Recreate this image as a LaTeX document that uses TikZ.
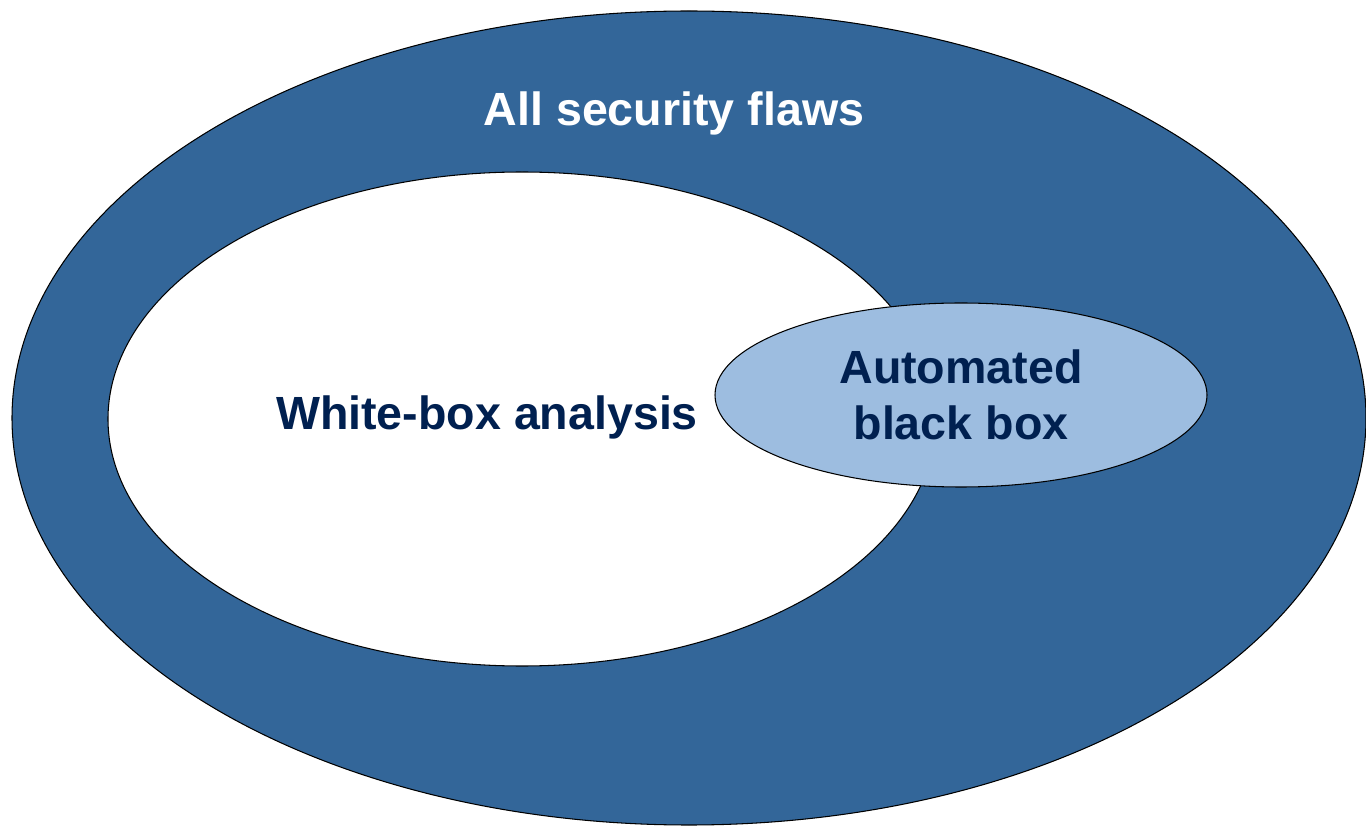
\documentclass[tikz,border=0pt]{standalone}
\usepackage{fontspec}
\setmainfont{Liberation Sans}
\usetikzlibrary{shapes.geometric}

\definecolor{flawblue}{RGB}{51,102,153}
\definecolor{blackboxblue}{RGB}{157,189,224}
\definecolor{labelnavy}{RGB}{0,32,80}

\tikzset{
	flawset/.style={shape=ellipse,draw=black,line width=0.6pt,inner sep=0pt},
	setlabel/.style={font=\fontsize{26.5}{32}\selectfont\bfseries,align=center}
}

\begin{document}
\begin{tikzpicture}

	\useasboundingbox (0, 0) rectangle (27.32, 16.5);
	\clip (0, 0) rectangle (27.32, 16.5);

	\node[flawset,fill=flawblue,minimum width=27.08cm,minimum height=16.28cm]    (all)      at (13.78, 8.14) {};
	\node[flawset,fill=white,minimum width=16.56cm,minimum height=9.88cm]        (whitebox) at (10.44, 8.12) {};
	\node[flawset,fill=blackboxblue,minimum width=9.84cm,minimum height=3.68cm]  (blackbox) at (19.22, 8.60) {};

	\node[setlabel,text=white]      (alltext)      at (13.48, 14.24) {All security flaws};
	\node[setlabel,text=labelnavy]  (whiteboxtext) at (9.74, 8.16)   {White-box analysis};
	\node[setlabel,text=labelnavy]  (blackboxtext) at (blackbox)     {Automated\\black box};

\end{tikzpicture}
\end{document}
